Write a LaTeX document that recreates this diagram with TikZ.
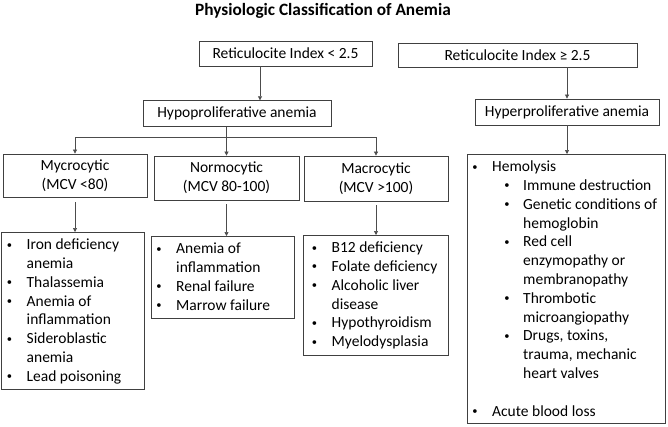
\documentclass[tikz,border=0pt]{standalone}
\usepackage{fontspec}
\setmainfont{Carlito}
\usetikzlibrary{arrows.meta,calc}
\newcommand{\smbul}{\raisebox{1.6pt}{\fontsize{10.5}{10.5}\selectfont\textbullet}}
\newcommand{\bl}[1]{\strut\makebox[21pt][l]{\hspace*{1.2pt}\smbul}#1}
\newcommand{\ct}[1]{\strut\hspace*{21pt}#1}
\newcommand{\sbl}[1]{\strut\hspace*{32pt}\makebox[20pt][l]{\hspace*{1.2pt}\smbul}#1}
\newcommand{\sct}[1]{\strut\hspace*{52pt}#1}
\begin{document}
\begin{tikzpicture}[x=1pt,y=-1pt,
  every node/.style={font=\fontsize{15.5}{18.8}\selectfont, text=black},
  box/.style={draw=black!75, line width=0.8pt, inner sep=0pt, align=center},
  lbox/.style={draw=black!75, line width=0.8pt, inner sep=0pt, anchor=north west},
  arr/.style={draw=black!70, line width=0.7pt, -{Triangle[length=4pt,width=4pt]}},
  ln/.style={draw=black!70, line width=0.7pt},
  lst/.style={anchor=north west, inner sep=0pt, align=left}
]
\useasboundingbox (0,0) rectangle (668,426);

\node[font={\fontsize{17.3}{20}\selectfont\bfseries}, anchor=base] (title) at (323,15) {Physiologic Classification of Anemia};

\node[box, minimum width=173, minimum height=25] (ri1) at (285.5,53.5) {Reticulocite Index < 2.5};
\node[box, minimum width=239, minimum height=24] (ri2) at (517.5,55) {Reticulocite Index ≥ 2.5};
\node[box, minimum width=188, minimum height=26] (hypo) at (237,113.7) {Hypoproliferative anemia};
\node[box, minimum width=184, minimum height=26] (hyper) at (567,112) {Hyperproliferative anemia};

\node[box, minimum width=144, minimum height=43] (myc) at (75,175.5) {Mycrocytic\\(MCV <80)};
\node[box, minimum width=145, minimum height=44] (normo) at (226.5,178) {Normocytic\\(MCV 80-100)};
\node[box, minimum width=144, minimum height=45] (macro) at (376,178.5) {Macrocytic\\(MCV >100)};

\node[lbox, minimum width=143, minimum height=157] (iron) at (1,232) {};
\node[lbox, minimum width=143, minimum height=82] (normol) at (151,236) {};
\node[lbox, minimum width=145, minimum height=120] (macrol) at (303,235) {};
\node[lbox, minimum width=198, minimum height=269] (hemo) at (467,154) {};

\node[lst] (irontxt) at ($(iron.north west)+(4.5,4.3)$) {\bl{Iron deficiency}\\\ct{anemia}\\\bl{Thalassemia}\\\bl{Anemia of}\\\ct{inflammation}\\\bl{Sideroblastic}\\\ct{anemia}\\\bl{Lead poisoning}};
\node[lst] (normotxt) at ($(normol.north west)+(4,4.3)$) {\bl{Anemia of}\\\ct{inflammation}\\\bl{Renal failure}\\\bl{Marrow failure}};
\node[lst] (macrotxt) at ($(macrol.north west)+(7.5,4.3)$) {\bl{B12 deficiency}\\\bl{Folate deficiency}\\\bl{Alcoholic liver}\\\ct{disease}\\\bl{Hypothyroidism}\\\bl{Myelodysplasia}};
\node[lst] (hemotxt) at ($(hemo.north west)+(4,4.3)$) {\bl{Hemolysis}\\\sbl{Immune destruction}\\\sbl{Genetic conditions of}\\\sct{hemoglobin}\\\sbl{Red cell}\\\sct{enzymopathy or}\\\sct{membranopathy}\\\sbl{Thrombotic}\\\sct{microangiopathy}\\\sbl{Drugs, toxins,}\\\sct{trauma, mechanic}\\\sct{heart valves}\\\strut\\\bl{Acute blood loss}};

\coordinate (by) at (0,137);
\coordinate (a1) at (260,0);
\draw[arr] (ri1.south -| a1) -- (hypo.north -| a1);
\draw[arr] (ri2.south -| hyper.north) -- (hyper.north);
\draw[arr] (hypo.south -| normo.north) -- (normo.north);
\draw[ln] (by -| myc.north) -- (by -| macro.north);
\draw[arr] (by -| myc.north) -- (myc.north);
\draw[arr] (by -| macro.north) -- (macro.north);

\draw[arr, shorten <=5pt] (myc.south) -- (myc.south |- iron.north);
\draw[arr, shorten <=4pt] (normo.south) -- (normo.south |- normol.north);
\draw[arr, shorten <=4pt] (macro.south) -- (macro.south |- macrol.north);
\draw[arr] (hyper.south) -- (hyper.south |- hemo.north);
\end{tikzpicture}
\end{document}
